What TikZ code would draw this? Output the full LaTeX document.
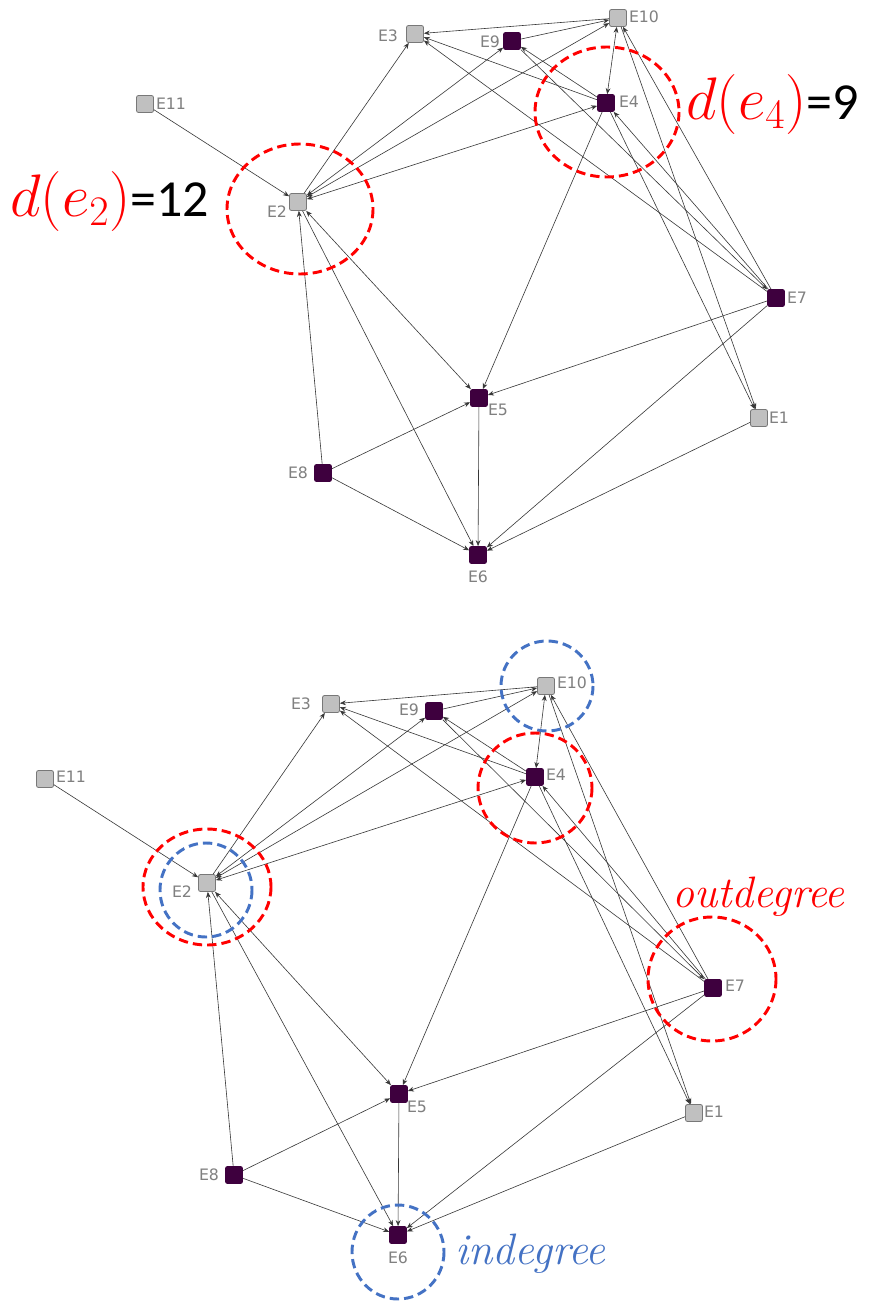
\RequirePackage{fix-cm}
\documentclass[tikz,border=0pt]{standalone}
\usepackage{fontspec}
\newfontfamily\lblfont{DejaVu Sans}
\newfontfamily\calfont{Carlito}
\usetikzlibrary{arrows.meta}
\definecolor{nodepurple}{RGB}{62,0,62}
\definecolor{nodegray}{RGB}{192,192,192}
\definecolor{nodeedge}{RGB}{120,120,120}
\definecolor{lblgray}{RGB}{128,128,128}
\definecolor{hlred}{RGB}{255,0,0}
\definecolor{hlblue}{RGB}{68,114,196}
\definecolor{edgecol}{RGB}{55,55,55}
\tikzset{
  gnode/.style={rectangle, minimum size=12.75pt, inner sep=0pt, rounded corners=1.5pt, draw=nodeedge, fill=nodegray, line width=0.6pt},
  pnode/.style={gnode, fill=nodepurple, draw=nodepurple},
  lbl/.style={font=\lblfont\fontsize{11.8}{12}\selectfont, text=lblgray, inner sep=0pt},
  edgeline/.style={draw=edgecol, line width=0.45pt, ->},
  biline/.style={draw=edgecol, line width=0.45pt, <->},
  redring/.style={draw=hlred, line width=2.2pt, dash pattern=on 7pt off 3.8pt},
  bluering/.style={draw=hlblue, line width=2.2pt, dash pattern=on 7pt off 3.8pt},
  biglbl/.style={anchor=base west, inner sep=0pt, font=\fontsize{39}{40}\selectfont},
  wordlbl/.style={anchor=base west, inner sep=0pt, font=\fontsize{33}{34}\selectfont\itshape}
}
\newcommand\degmath[1]{\textcolor{hlred}{\fontsize{45}{47}\selectfont$d(e_{#1})$}}
\begin{document}
\begin{tikzpicture}[x=0.75pt, y=-0.75pt, >={Stealth[length=4.5pt,width=3.6pt]}]
\useasboundingbox (0,0) rectangle (871,1312);
\fill[white] (0,0) rectangle (871,1312);

% ---------- top graph ----------
\node[gnode] (a3) at (415,34) {};
\node[gnode] (a10) at (618,18) {};
\node[pnode] (a9) at (512,41) {};
\node[pnode] (a4) at (606,103) {};
\node[gnode] (a11) at (145,104) {};
\node[gnode] (a2) at (298,202) {};
\node[pnode] (a7) at (776,298) {};
\node[pnode] (a5) at (479,398) {};
\node[gnode] (a1) at (759,418) {};
\node[pnode] (a8) at (323,473) {};
\node[pnode] (a6) at (478,555) {};

\node[lbl] (la3) at (388,36) {E3};
\node[lbl] (la9) at (490,42) {E9};
\node[lbl] (la10) at (644,17) {E10};
\node[lbl] (la4) at (629,102) {E4};
\node[lbl] (la11) at (171,104) {E11};
\node[lbl] (la2) at (277,212) {E2};
\node[lbl] (la7) at (797,298) {E7};
\node[lbl] (la5) at (498,410) {E5};
\node[lbl] (la1) at (779,418) {E1};
\node[lbl] (la8) at (298,473) {E8};
\node[lbl] (la6) at (478,577) {E6};

% ---------- bottom graph ----------
\node[gnode] (b3) at (331,704) {};
\node[gnode] (b10) at (546,686) {};
\node[pnode] (b9) at (434,711) {};
\node[pnode] (b4) at (535,777) {};
\node[gnode] (b11) at (45,779) {};
\node[gnode] (b2) at (207,883) {};
\node[pnode] (b7) at (713,988) {};
\node[pnode] (b5) at (399,1094) {};
\node[gnode] (b1) at (694,1113) {};
\node[pnode] (b8) at (234,1175) {};
\node[pnode] (b6) at (398,1235) {};

\node[lbl] (lb3) at (301,704) {E3};
\node[lbl] (lb9) at (409,710) {E9};
\node[lbl] (lb10) at (572,683) {E10};
\node[lbl] (lb4) at (556,775) {E4};
\node[lbl] (lb11) at (71,777) {E11};
\node[lbl] (lb2) at (182,892) {E2};
\node[lbl] (lb7) at (735,986) {E7};
\node[lbl] (lb5) at (417,1107) {E5};
\node[lbl] (lb1) at (714,1112) {E1};
\node[lbl] (lb8) at (209,1175) {E8};
\node[lbl] (lb6) at (398,1258) {E6};

% ---------- edges ----------
\foreach \g in {a,b}{
  \foreach \s/\t in {11/2, 2/3, 8/2, 2/6, 10/3, 9/10, 4/3, 7/3, 4/9, 9/7, 4/5, 7/4, 4/1, 7/10, 10/1, 7/5, 7/6, 1/6, 5/6, 8/5, 8/6}
    \draw[edgeline] (\g\s) -- (\g\t);
  \foreach \s/\t in {2/9, 2/10, 2/4, 10/4, 2/5}
    \draw[biline] (\g\s) -- (\g\t);
}

% ---------- highlight rings ----------
\draw[redring] (300,209) ellipse [x radius=73, y radius=65];
\draw[redring] (607,112) ellipse [x radius=72, y radius=65];

\draw[bluering] (547,686) ellipse [x radius=46, y radius=45];
\draw[redring] (535,788) ellipse [x radius=57, y radius=55];
\draw[redring] (207,887) ellipse [x radius=64, y radius=58];
\draw[bluering] (206,890) ellipse [x radius=46, y radius=47];
\draw[redring] (712,979) ellipse [x radius=64, y radius=62];
\draw[bluering] (398,1252) ellipse [x radius=46, y radius=47];

% ---------- texts ----------
\node[biglbl] (deg2) at (10,217) {\degmath{2}{\calfont=12}};
\node[biglbl] (deg4) at (686,120) {\degmath{4}{\calfont=9}};
\node[wordlbl, text=hlred] (outword) at (672,907) {outdegree};
\node[wordlbl, text=hlblue] (inword) at (455,1264) {indegree};
\end{tikzpicture}
\end{document}
